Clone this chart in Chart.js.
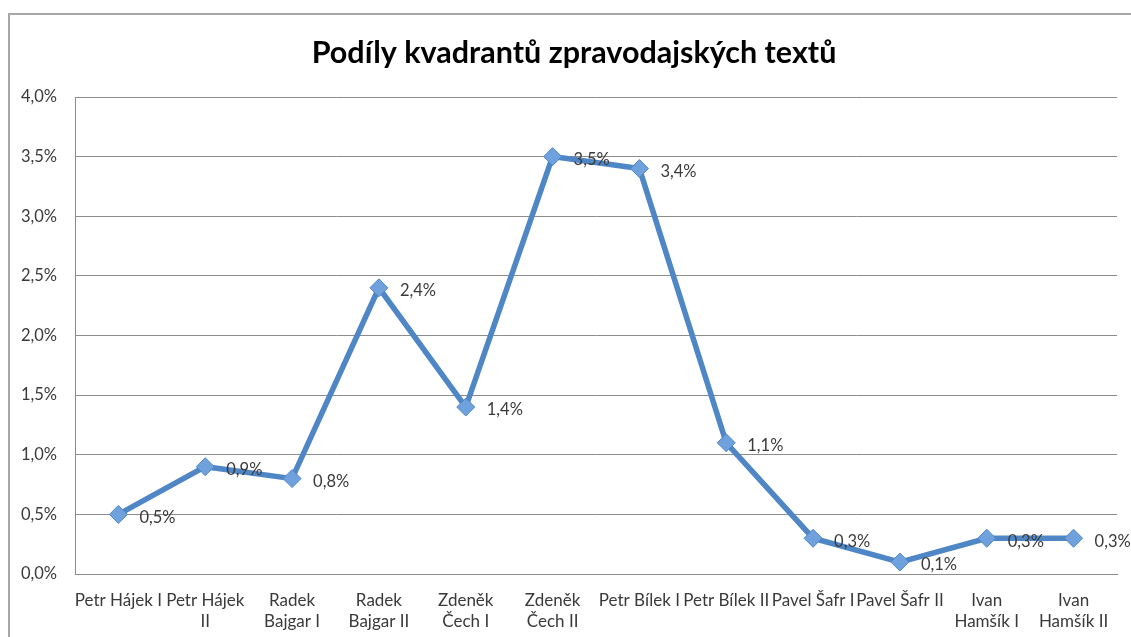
<!DOCTYPE html>
<html>
<head>
<meta charset="utf-8">
<script src="https://cdn.jsdelivr.net/npm/chart.js@4"></script>
<style>
    html, body { margin: 0; padding: 0; background: #fff; overflow: hidden; }
    #frame {
        position: absolute; left: 8px; top: 13px; width: 1200px; height: 700px;
        border-left: 2px solid #a6a6a6; border-top: 2px solid #a6a6a6;
    }
    #wrap { position: absolute; left: 0; top: 0; width: 1131px; height: 637px; }
</style>
</head>
<body>
<div id="frame"></div>
<div id="wrap"><canvas id="chart"></canvas></div>
<script>
// Data
const chartTitle = 'Podíly kvadrantů zpravodajských textů';
const categories = [
    ['Petr Hájek I'], ['Petr Hájek', 'II'], ['Radek', 'Bajgar I'], ['Radek', 'Bajgar II'],
    ['Zdeněk', 'Čech I'], ['Zdeněk', 'Čech II'], ['Petr Bílek I'], ['Petr Bílek II'],
    ['Pavel Šafr I'], ['Pavel Šafr II'], ['Ivan', 'Hamšík I'], ['Ivan', 'Hamšík II']
];
const shares = [0.5, 0.9, 0.8, 2.4, 1.4, 3.5, 3.4, 1.1, 0.3, 0.1, 0.3, 0.3];
const yTicks = [0, 0.5, 1, 1.5, 2, 2.5, 3, 3.5, 4];

const FONT = 'Lato, "Open Sans", sans-serif';
const LINE = '#4f86c6';
const GRID = '#8c8c8c';
const TEXT = '#3a3a3a';

const fmt = v => v.toFixed(1).replace('.', ',') + '%';

// value labels to the right of each point, plus the title
// (the title sits a bit right of the plot centre, like the frame it came from)
const annotations = {
    id: 'annotations',
    afterDatasetsDraw(chart) {
        const ctx = chart.ctx;
        const meta = chart.getDatasetMeta(0);
        ctx.save();
        ctx.font = '16.5px ' + FONT;
        ctx.fillStyle = TEXT;
        ctx.textAlign = 'left';
        ctx.textBaseline = 'middle';
        meta.data.forEach((pt, i) => {
            ctx.fillText(fmt(shares[i]), pt.x + 21, pt.y + 3);
        });

        ctx.font = 'bold 30.5px ' + FONT;
        ctx.fillStyle = '#000';
        ctx.textAlign = 'center';
        ctx.fillText(chartTitle, 574, 53);
        ctx.restore();
    }
};

const ctx = document.getElementById('chart').getContext('2d');
new Chart(ctx, {
    type: 'line',
    data: {
        labels: categories,
        datasets: [{
            data: shares,
            borderColor: LINE,
            borderWidth: 5.5,
            pointStyle: 'rectRot',
            pointRadius: 9,
            pointBackgroundColor: '#6fa2dc',
            pointBorderColor: LINE,
            pointBorderWidth: 1,
            tension: 0
        }]
    },
    options: {
        responsive: true,
        maintainAspectRatio: false,
        animation: false,
        layout: { padding: { left: 0, right: 14, top: 97, bottom: 0 } },
        plugins: {
            legend: { display: false },
            tooltip: { enabled: false },
            title: { display: false }
        },
        scales: {
            x: {
                offset: true,
                grid: { display: false },
                border: { display: true, color: GRID, width: 1 },
                ticks: {
                    color: TEXT,
                    font: { family: FONT, size: 17, lineHeight: 1.25 },
                    padding: 8,
                    maxRotation: 0,
                    autoSkip: false
                },
                afterFit: s => { s.height = 63; }
            },
            y: {
                min: 0,
                max: 4,
                afterBuildTicks: s => { s.ticks = yTicks.map(v => ({ value: v })); },
                grid: { color: GRID, lineWidth: 1, drawTicks: false },
                border: { display: true, color: GRID, width: 1 },
                ticks: {
                    color: TEXT,
                    font: { family: FONT, size: 16.5 },
                    padding: 18,
                    callback: v => fmt(v)
                },
                afterFit: s => { s.width = 75; }
            }
        }
    },
    plugins: [annotations]
});
</script>
</body>
</html>
